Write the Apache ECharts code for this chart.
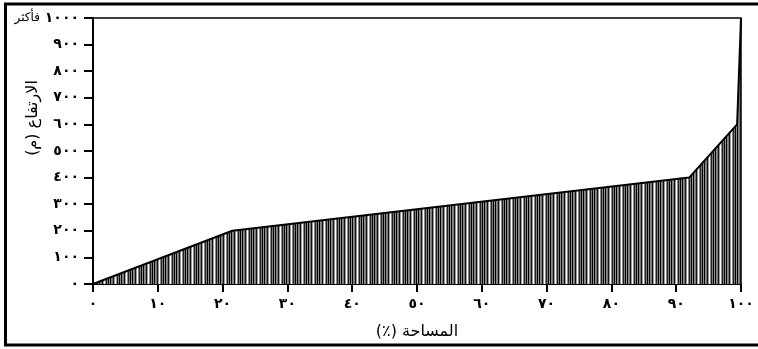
<!DOCTYPE html>
<html>
<head>
<meta charset="utf-8">
<script src="https://cdn.jsdelivr.net/npm/echarts@6/dist/echarts.min.js"></script>
<style>
  html, body { margin: 0; padding: 0; background: #fff; }
  #chart { width: 758px; height: 349px; }
</style>
</head>
<body>
<div id="chart"></div>
<script>
// Cumulative area (%) against elevation (m)
const areaPercent = [0, 21.5, 92, 99.4, 100];
const elevation = [0, 200, 400, 600, 1000];
const xTicks = [0, 10, 20, 30, 40, 50, 60, 70, 80, 90, 100];
const yTopLabel = 'فأكثر';
const xName = '(٪) المساحة';
const yName = 'الارتفاع (م)';

const arabicDigits = '٠١٢٣٤٥٦٧٨٩';
function toArabic(n) {
  return String(n).replace(/[0-9]/g, d => arabicDigits[d]);
}

// Vertical hatch fill
function hatchPattern() {
  const cols = ['#000', '#8a8a8a', '#777', '#111', '#999', '#fff', '#888', '#222', '#7c7c7c', '#000', '#909090'];
  const c = document.createElement('canvas');
  c.width = cols.length; c.height = 4;
  const ctx = c.getContext('2d');
  cols.forEach((col, i) => { ctx.fillStyle = col; ctx.fillRect(i, 0, 1, 4); });
  return c;
}

const chart = echarts.init(document.getElementById('chart'));
const font = '"DejaVu Sans", sans-serif';

chart.setOption({
  backgroundColor: '#fff',
  animation: false,
  grid: {
    left: 93, right: 17, top: 18, bottom: 65,
    outerBoundsMode: 'none', containLabel: false,
    show: true, borderColor: '#000', borderWidth: 1.5, backgroundColor: 'transparent'
  },
  xAxis: {
    type: 'value', min: 0, max: 100, interval: 10,
    name: xName, nameLocation: 'middle', nameGap: 40,
    nameTextStyle: { color: '#000', fontSize: 16, fontFamily: font },
    axisLine: { lineStyle: { color: '#000', width: 2 } },
    axisTick: { show: true, length: 8, lineStyle: { color: '#000', width: 2 } },
    axisLabel: {
      color: '#000', fontSize: 14, fontWeight: 'bold', fontFamily: font, margin: 13,
      formatter: v => xTicks.includes(v) ? toArabic(v) : ''
    },
    splitLine: { show: false }
  },
  yAxis: {
    type: 'value', min: 0, max: 1000, interval: 100,
    axisLine: { lineStyle: { color: '#000', width: 2 } },
    axisTick: { show: true, length: 9, lineStyle: { color: '#000', width: 2 } },
    axisLabel: {
      color: '#000', fontSize: 14, fontWeight: 'bold', fontFamily: font, margin: 14,
      formatter: v => v === 1000 ? '{w|' + yTopLabel + '} ' + toArabic(v) : toArabic(v),
      rich: {
        w: { color: '#000', fontSize: 12, fontFamily: font, fontWeight: 'normal' }
      }
    },
    splitLine: { show: false }
  },
  series: [{
    type: 'line',
    data: areaPercent.map((x, i) => [x, elevation[i]]),
    symbol: 'none',
    lineStyle: { color: '#000', width: 2 },
    areaStyle: { color: { image: hatchPattern(), repeat: 'repeat' }, opacity: 1 }
  }],
  graphic: [{
    type: 'text', silent: true,
    x: 33, y: 118, rotation: Math.PI / 2,
    style: {
      text: yName, fill: '#000', fontSize: 16, fontFamily: font,
      align: 'center', verticalAlign: 'middle'
    }
  }, {
    type: 'rect', silent: true, z: 100,
    shape: { x: 5.5, y: 4, width: 760, height: 341 },
    style: { fill: 'none', stroke: '#000', lineWidth: 3 }
  }]
});
</script>
</body>
</html>
